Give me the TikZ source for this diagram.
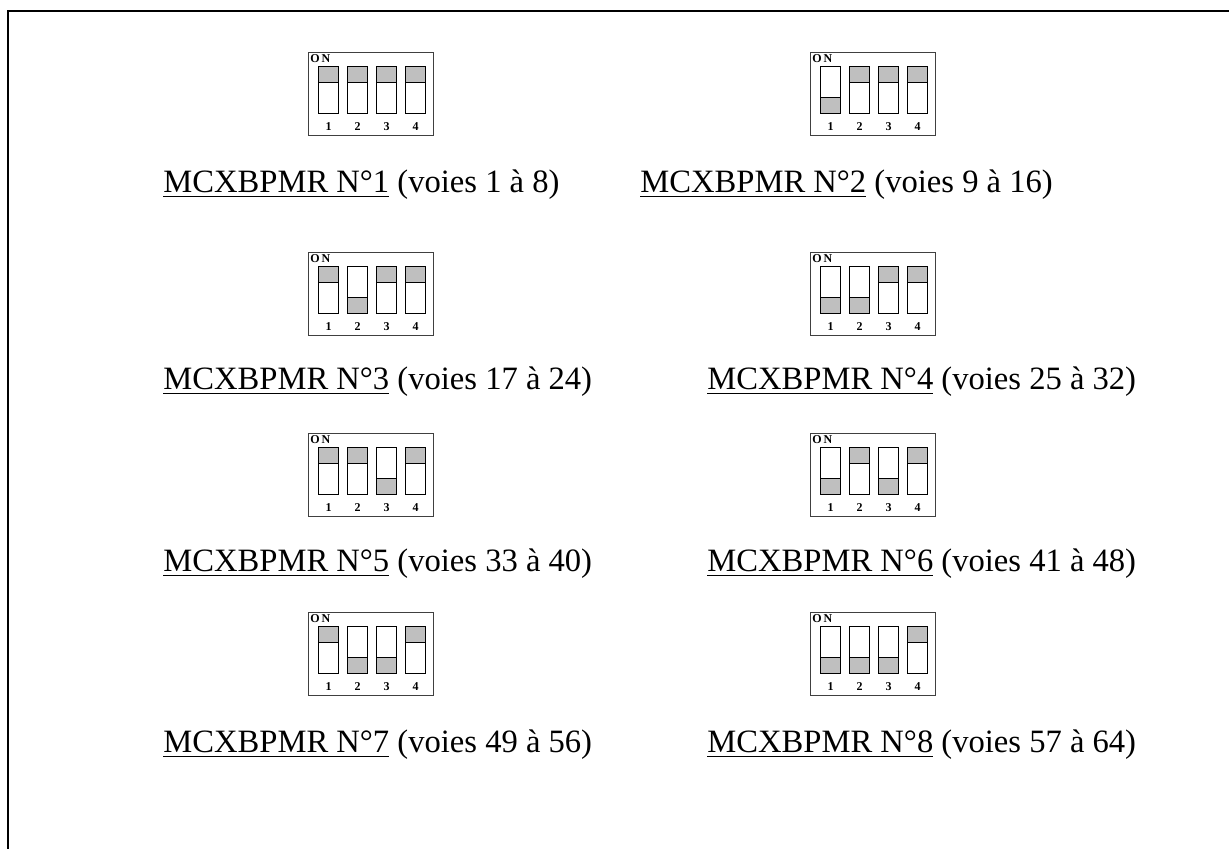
\documentclass[tikz,border=0pt]{standalone}
\usepackage{fontspec}
\setmainfont{Liberation Serif}
\usetikzlibrary{positioning,calc}

\begin{document}
\begin{tikzpicture}[
    x=0.5pt,y=-0.5pt,
    frame/.style={line width=1pt},
    dipbox/.style={rectangle,draw=black!75,line width=0.6pt,
                   minimum width=62.5pt,minimum height=41.5pt,
                   inner sep=0pt,anchor=north west},
    lever/.style={rectangle,draw=black,line width=0.6pt,
                  minimum width=10pt,minimum height=23.5pt,
                  inner sep=0pt,anchor=north west},
    knob/.style={rectangle,draw=black,fill=black!25,line width=0.6pt,
                 minimum width=10pt,minimum height=8pt,inner sep=0pt},
    tiny/.style={font=\fontsize{6}{7}\selectfont\bfseries,inner sep=0pt},
    caption/.style={font=\fontsize{16.3}{19}\selectfont,
                    anchor=west,inner sep=0pt}]

    \useasboundingbox (0,0) rectangle (1229,849);
    \draw[frame] (8,849) -- (8,11) -- (1229,11);

    % one dip switch block and its caption per card
    \foreach \k/\bx/\by/\lx/\ly in {1/308/52/163/185, 2/810/52/640/185,
                                    3/308/252/163/382, 4/810/252/707/382,
                                    5/308/433/163/564, 6/810/433/707/564,
                                    7/308/612/163/745, 8/810/612/707/745}
    {
      \node[dipbox] (dip\k) at (\bx,\by) {};
      \node[tiny,anchor=north west] at ($(dip\k.north west)+(2,2)$) {O\,N};
      \foreach \s in {1,...,4}
      {
        \pgfmathsetmacro\sx{10+29*(\s-1)}
        \pgfmathtruncatemacro\dn{mod(floor((\k-1)/2^(\s-1)),2)}
        \node[lever] (sw\k-\s) at ($(dip\k.north west)+(\sx,14)$) {};
        \ifnum\dn=1
          \node[knob,anchor=south] at (sw\k-\s.south) {};
        \else
          \node[knob,anchor=north] at (sw\k-\s.north) {};
        \fi
        \node[tiny] at ($(sw\k-\s.south)+(0,12)$) {\s};
      }
      \pgfmathtruncatemacro\first{8*(\k-1)+1}
      \pgfmathtruncatemacro\last{8*\k}
      \node[caption] (lbl\k) at (\lx,\ly)
        {\underline{MCXBPMR N°\k} (voies \first{} à \last)};
    }
  \end{tikzpicture}
\end{document}
